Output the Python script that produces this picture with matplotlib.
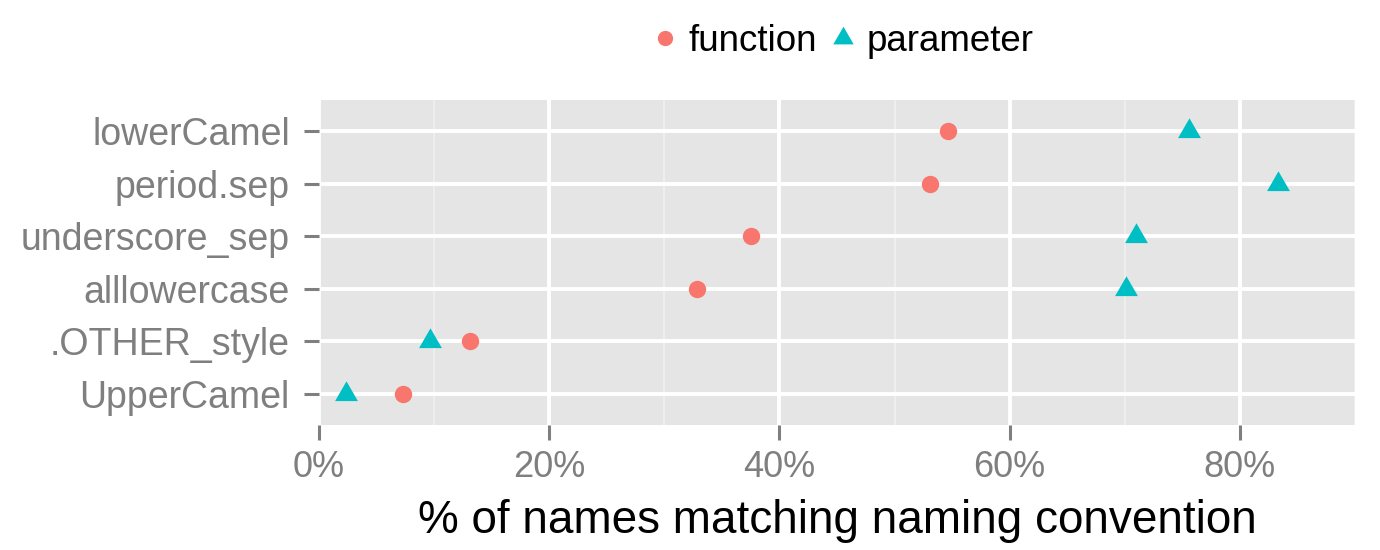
import matplotlib
matplotlib.use("Agg")
import matplotlib.pyplot as plt
from matplotlib.lines import Line2D
from matplotlib.ticker import FixedLocator

################################################################################
# data (percent of names)
styles = ["lowerCamel", "period.sep", "underscore_sep", "alllowercase",
          ".OTHER_style", "UpperCamel"]
function_pct = [54.6, 53.1, 37.5, 32.8, 13.1, 7.3]
parameter_pct = [75.6, 83.3, 71.0, 70.1, 9.6, 2.35]
x_ticks = [0, 20, 40, 60, 80]
x_minor = [10, 30, 50, 70, 90]

col_fun = "#F8766D"
col_par = "#00BFC4"
grey_txt = "#7F7F7F"

# triangle with centroid at origin, like ggplot shape 17
tri = [(0, 1), (-0.866, -0.5), (0.866, -0.5), (0, 1)]

plt.rcParams["font.family"] = ["Liberation Sans", "DejaVu Sans"]


def Naming_Plot():
    fig = plt.figure(figsize=(13.8, 5.5), dpi=100)
    ax = fig.add_axes([319 / 1380, 1 - 425 / 550, 1036 / 1380, 325 / 550])
    ax.set_facecolor("#E5E5E5")

    y = list(range(len(styles), 0, -1))  # lowerCamel on top

    ax.set_xlim(0, 90)
    ax.set_ylim(0.4, len(styles) + 0.6)

    ax.xaxis.set_major_locator(FixedLocator(x_ticks))
    ax.xaxis.set_minor_locator(FixedLocator(x_minor))
    ax.set_xticks(x_ticks)
    ax.set_xticklabels(["%d%%" % t for t in x_ticks])
    ax.set_yticks(y)
    ax.set_yticklabels(styles)

    ax.grid(which="major", color="white", lw=2.8)
    ax.grid(which="minor", axis="x", color="#F2F2F2", lw=1.1)
    ax.set_axisbelow(True)
    for s in ax.spines.values():
        s.set_visible(False)

    ax.tick_params(which="major", length=11, width=2.2, color=grey_txt,
                   labelcolor=grey_txt, labelsize=26)
    ax.tick_params(axis="y", labelsize=27, pad=10)
    ax.tick_params(axis="x", pad=7)
    ax.tick_params(which="minor", length=0)

    ax.plot(function_pct, y, ls="none", marker="o", ms=12.5,
            color=col_fun, mew=0, zorder=3)
    ax.plot(parameter_pct, y, ls="none", marker=tri, ms=19,
            color=col_par, mew=0, zorder=3)

    ax.set_xlabel("% of names matching naming convention", fontsize=33,
                  color="black", labelpad=10)

    handles = [
        Line2D([], [], ls="none", marker="o", ms=11, color=col_fun, mew=0),
        Line2D([], [], ls="none", marker=tri, ms=17, color=col_par, mew=0),
    ]
    ax.legend(handles, ["function", "parameter"], loc="center",
              bbox_to_anchor=(0.505, 1.18), ncol=2, frameon=False,
              fontsize=26.5, handlelength=0.8, handletextpad=0.25,
              columnspacing=0.3, borderaxespad=0)

    fig.savefig("out.png", dpi=100)


if __name__ == "__main__":
    Naming_Plot()
